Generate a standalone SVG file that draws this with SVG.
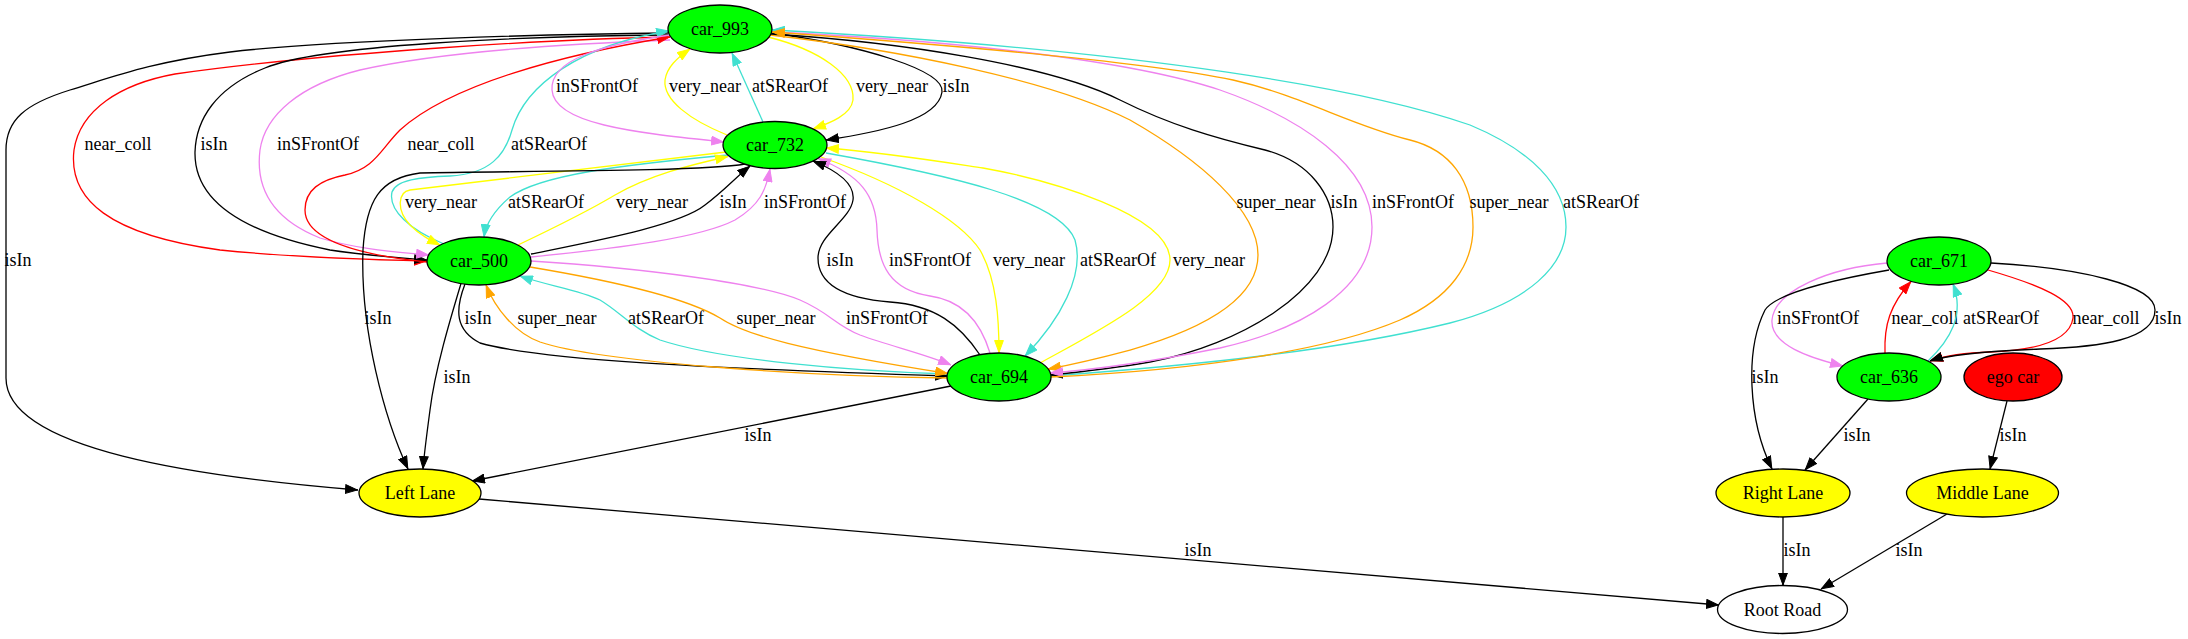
<svg xmlns="http://www.w3.org/2000/svg" width="2188" height="639" viewBox="0 0 2188 639">
<style>
text{font-family:"Liberation Serif","Times New Roman",serif;font-size:18px;text-anchor:middle;fill:#000}
.n{stroke:#000;stroke-width:1.3}
.e path{fill:none;stroke-width:1.3}
.k{stroke:#000;marker-end:url(#mk)}
.r{stroke:#ff0000;marker-end:url(#mr)}
.v{stroke:#ee82ee;marker-end:url(#mv)}
.t{stroke:#40e0d0;marker-end:url(#mt)}
.y{stroke:#ffff00;marker-end:url(#my)}
.o{stroke:#ffa500;marker-end:url(#mo)}
</style>
<defs>
<marker id="mk" viewBox="0 0 13 10" refX="13" refY="5" markerWidth="13" markerHeight="10" orient="auto" markerUnits="userSpaceOnUse"><path d="M0.5,0.6 L12.5,5 L0.5,9.4 z" fill="#000" stroke="#000" stroke-width="1"/></marker>
<marker id="mr" viewBox="0 0 13 10" refX="13" refY="5" markerWidth="13" markerHeight="10" orient="auto" markerUnits="userSpaceOnUse"><path d="M0.5,0.6 L12.5,5 L0.5,9.4 z" fill="#ff0000" stroke="#ff0000" stroke-width="1"/></marker>
<marker id="mv" viewBox="0 0 13 10" refX="13" refY="5" markerWidth="13" markerHeight="10" orient="auto" markerUnits="userSpaceOnUse"><path d="M0.5,0.6 L12.5,5 L0.5,9.4 z" fill="#ee82ee" stroke="#ee82ee" stroke-width="1"/></marker>
<marker id="mt" viewBox="0 0 13 10" refX="13" refY="5" markerWidth="13" markerHeight="10" orient="auto" markerUnits="userSpaceOnUse"><path d="M0.5,0.6 L12.5,5 L0.5,9.4 z" fill="#40e0d0" stroke="#40e0d0" stroke-width="1"/></marker>
<marker id="my" viewBox="0 0 13 10" refX="13" refY="5" markerWidth="13" markerHeight="10" orient="auto" markerUnits="userSpaceOnUse"><path d="M0.5,0.6 L12.5,5 L0.5,9.4 z" fill="#ffff00" stroke="#ffff00" stroke-width="1"/></marker>
<marker id="mo" viewBox="0 0 13 10" refX="13" refY="5" markerWidth="13" markerHeight="10" orient="auto" markerUnits="userSpaceOnUse"><path d="M0.5,0.6 L12.5,5 L0.5,9.4 z" fill="#ffa500" stroke="#ffa500" stroke-width="1"/></marker>
</defs>
<rect width="2188" height="639" fill="#fff"/>
<g id="connectors" class="e">
<!-- car_993 edges to the left -->
<path class="k" d="M668,33 C560,34 330,40 230,52 C150,62 110,78 70,90 C25,104 6,120 6,150 L6,378 C6,450 200,477 358,490"/>
<text x="18" y="266">isIn</text>
<path class="r" d="M668,37 C560,39 330,52 175,74 C120,84 80,110 74,150 C68,200 110,235 220,250 C300,258 380,260 427,261"/>
<text x="118" y="150">near_coll</text>
<path class="k" d="M668,35 C520,36 320,45 265,68 C215,88 196,120 195,152 C194,200 240,232 330,250 C370,256 400,258 427,260"/>
<text x="214" y="150">isIn</text>
<path class="v" d="M670,40 C560,44 440,52 360,70 C300,85 265,115 260,150 C255,190 275,220 320,238 C360,250 400,252 429,255"/>
<text x="318" y="150">inSFrontOf</text>
<path class="r" d="M427,262 C360,255 305,240 305,210 C305,190 320,180 345,175 C375,168 380,150 400,130 C450,85 560,55 670,37"/>
<text x="441" y="150">near_coll</text>
<path class="t" d="M444,244 C410,230 388,210 392,192 C396,180 420,177 450,176 C490,174 505,155 512,130 C525,85 580,45 669,31"/>
<text x="549" y="150">atSRearOf</text>
<!-- car_993 <-> car_732 -->
<path class="v" d="M670,35 C600,45 550,60 552,90 C554,125 640,133 724,142"/>
<text x="597" y="92">inSFrontOf</text>
<path class="y" d="M727,135 C690,120 663,100 665,80 C667,67 677,58 690,49"/>
<text x="705" y="92">very_near</text>
<path class="t" d="M763,122 L732,53"/>
<text x="790" y="92">atSRearOf</text>
<path class="y" d="M768,37 C820,50 855,75 853,100 C851,115 830,123 813,129"/>
<text x="892" y="92">very_near</text>
<path class="k" d="M771,33 C860,45 945,70 942,92 C938,120 880,132 826,140"/>
<text x="956" y="92">isIn</text>
<!-- car_993 <-> car_694 -->
<path class="t" d="M1050,376 C1200,365 1340,350 1450,323 C1530,302 1566,265 1566,227 C1566,185 1530,150 1470,125 C1370,90 1150,50 772,30"/>
<text x="1601" y="208">atSRearOf</text>
<path class="o" d="M770,35 C900,50 1050,80 1130,120 C1200,160 1258,210 1258,255 C1258,300 1200,330 1130,350 C1100,358 1075,364 1048,369"/>
<text x="1276" y="208">super_near</text>
<path class="k" d="M771,34 C900,42 1050,65 1120,100 C1170,125 1215,138 1265,150 C1310,162 1333,195 1333,227 C1333,290 1240,345 1150,362 C1110,369 1080,372 1050,375"/>
<text x="1344" y="208">isIn</text>
<path class="v" d="M771,32 C950,40 1130,60 1220,90 C1300,118 1372,165 1372,227 C1372,290 1300,330 1220,348 C1150,362 1090,370 1050,373"/>
<text x="1413" y="208">inSFrontOf</text>
<path class="o" d="M1050,377 C1200,370 1330,350 1400,320 C1450,298 1473,265 1473,227 C1473,180 1450,150 1410,140 C1350,125 1300,95 1233,80 C1150,62 950,45 772,32"/>
<text x="1509" y="208">super_near</text>
<!-- car_732 <-> car_694 -->
<path class="y" d="M1040,363 C1100,330 1170,295 1170,260 C1170,215 1050,180 983,168 C930,160 880,152 826,148"/>
<text x="1209" y="266">very_near</text>
<path class="t" d="M826,153 C950,175 1060,200 1075,240 C1085,275 1060,320 1025,356"/>
<text x="1118" y="266">atSRearOf</text>
<path class="y" d="M821,157 C900,185 960,220 980,250 C997,280 999,320 999,353"/>
<text x="1029" y="266">very_near</text>
<path class="v" d="M990,353 C980,320 960,300 930,296 C890,290 878,265 877,230 C876,195 860,175 818,158.5"/>
<text x="930" y="266">inSFrontOf</text>
<path class="k" d="M980,355 C960,325 935,305 890,302 C840,298 818,282 818,258 C818,235 850,220 853,200 C855,185 840,172 813,161"/>
<text x="840" y="266">isIn</text>
<!-- car_732 <-> car_500 -->
<path class="y" d="M726,152 L410,190 C398,192 396,210 410,225 C420,235 430,240 440,245"/>
<text x="441" y="208">very_near</text>
<path class="t" d="M728,155 C620,165 540,175 510,197 C495,210 486,222 484,237"/>
<text x="546" y="208">atSRearOf</text>
<path class="y" d="M518,245 C560,225 590,210 615,195 C650,175 690,165 728,156.5"/>
<text x="652" y="208">very_near</text>
<path class="k" d="M531,254 C600,240 680,225 705,205 C725,190 735,178 750,166"/>
<text x="733" y="208">isIn</text>
<path class="v" d="M531,257 C620,248 700,238 735,220 C760,205 766,190 770,169"/>
<text x="805" y="208">inSFrontOf</text>
<!-- car_500 <-> car_694 -->
<path class="k" d="M465,284 C455,310 455,330 480,343 C540,360 700,368 948,376"/>
<text x="478" y="324">isIn</text>
<path class="o" d="M948,378 C800,376 600,362 540,342 C515,333 495,308 486,285"/>
<text x="557" y="324">super_near</text>
<path class="t" d="M948,374 C850,371 720,360 660,340 C635,330 620,312 600,300 C580,290 545,285 520,276"/>
<text x="666" y="324">atSRearOf</text>
<path class="o" d="M530,267 C620,282 690,300 720,318 C745,335 800,350 948,373.5"/>
<text x="776" y="324">super_near</text>
<path class="v" d="M531,261 C640,268 760,283 800,300 C830,313 835,325 860,335 C890,346 925,354 951,365"/>
<text x="887" y="324">inSFrontOf</text>
<!-- to Left Lane / Root Road -->
<path class="k" d="M745,164 C700,172 500,171 420,173 C380,178 366,200 363,250 C360,330 385,420 408,469"/>
<text x="378" y="324">isIn</text>
<path class="k" d="M461,283.5 C450,320 435,370 430,410 C426,440 424,455 423,469"/>
<text x="457" y="383">isIn</text>
<path class="k" d="M951,386 L472,481"/>
<text x="758" y="441">isIn</text>
<path class="k" d="M479,499 L1719,605"/>
<text x="1198" y="556">isIn</text>
<!-- right cluster -->
<path class="v" d="M1887,263 C1830,268 1775,290 1772,320 C1770,345 1810,358 1843,366"/>
<text x="1818" y="324">inSFrontOf</text>
<path class="k" d="M1889,270 C1820,282 1775,295 1765,310 C1745,350 1748,420 1772,469"/>
<text x="1765" y="383">isIn</text>
<path class="r" d="M1885,353 C1884,325 1890,305 1911,281.5"/>
<text x="1925" y="324">near_coll</text>
<path class="t" d="M1928,361 C1950,340 1965,315 1953,284"/>
<text x="2001" y="324">atSRearOf</text>
<path class="r" d="M1988,270 C2040,285 2075,300 2073,318 C2070,340 2040,350 1990,352 C1960,353 1945,356 1930,361"/>
<text x="2106" y="324">near_coll</text>
<path class="k" d="M1991,263 C2080,268 2155,285 2155,310 C2155,340 2100,347 2040,349 C1990,351 1950,354 1930,361"/>
<text x="2168" y="324">isIn</text>
<path class="k" d="M1868,399 L1805,470"/>
<text x="1857" y="441">isIn</text>
<path class="k" d="M2007,401 L1990,469"/>
<text x="2013" y="441">isIn</text>
<path class="k" d="M1783,516.5 L1783,585.5"/>
<text x="1797" y="556">isIn</text>
<path class="k" d="M1947,514 L1821,589"/>
<text x="1909" y="556">isIn</text>
</g>
<g id="car_993"><ellipse class="n" cx="720" cy="29" rx="52" ry="24" fill="#00ff00"/><text x="720" y="35">car_993</text></g>
<g id="car_732"><ellipse class="n" cx="775" cy="145" rx="52" ry="23.5" fill="#00ff00"/><text x="775" y="151">car_732</text></g>
<g id="car_500"><ellipse class="n" cx="479" cy="261" rx="52" ry="24" fill="#00ff00"/><text x="479" y="267">car_500</text></g>
<g id="car_694"><ellipse class="n" cx="999" cy="377" rx="52" ry="24" fill="#00ff00"/><text x="999" y="383">car_694</text></g>
<g id="left_lane"><ellipse class="n" cx="420" cy="493" rx="61" ry="24" fill="#ffff00"/><text x="420" y="499">Left Lane</text></g>
<g id="root_road"><ellipse class="n" cx="1782.5" cy="609.5" rx="65" ry="24" fill="#ffffff"/><text x="1782.5" y="615.5">Root Road</text></g>
<g id="car_671"><ellipse class="n" cx="1939" cy="261" rx="52" ry="24" fill="#00ff00"/><text x="1939" y="267">car_671</text></g>
<g id="car_636"><ellipse class="n" cx="1889" cy="377" rx="52" ry="24" fill="#00ff00"/><text x="1889" y="383">car_636</text></g>
<g id="ego_car"><ellipse class="n" cx="2013" cy="377" rx="49" ry="24" fill="#ff0000"/><text x="2013" y="383">ego car</text></g>
<g id="right_lane"><ellipse class="n" cx="1783" cy="493" rx="67" ry="24" fill="#ffff00"/><text x="1783" y="499">Right Lane</text></g>
<g id="middle_lane"><ellipse class="n" cx="1982.5" cy="493" rx="76" ry="24" fill="#ffff00"/><text x="1982.5" y="499">Middle Lane</text></g>
</svg>
